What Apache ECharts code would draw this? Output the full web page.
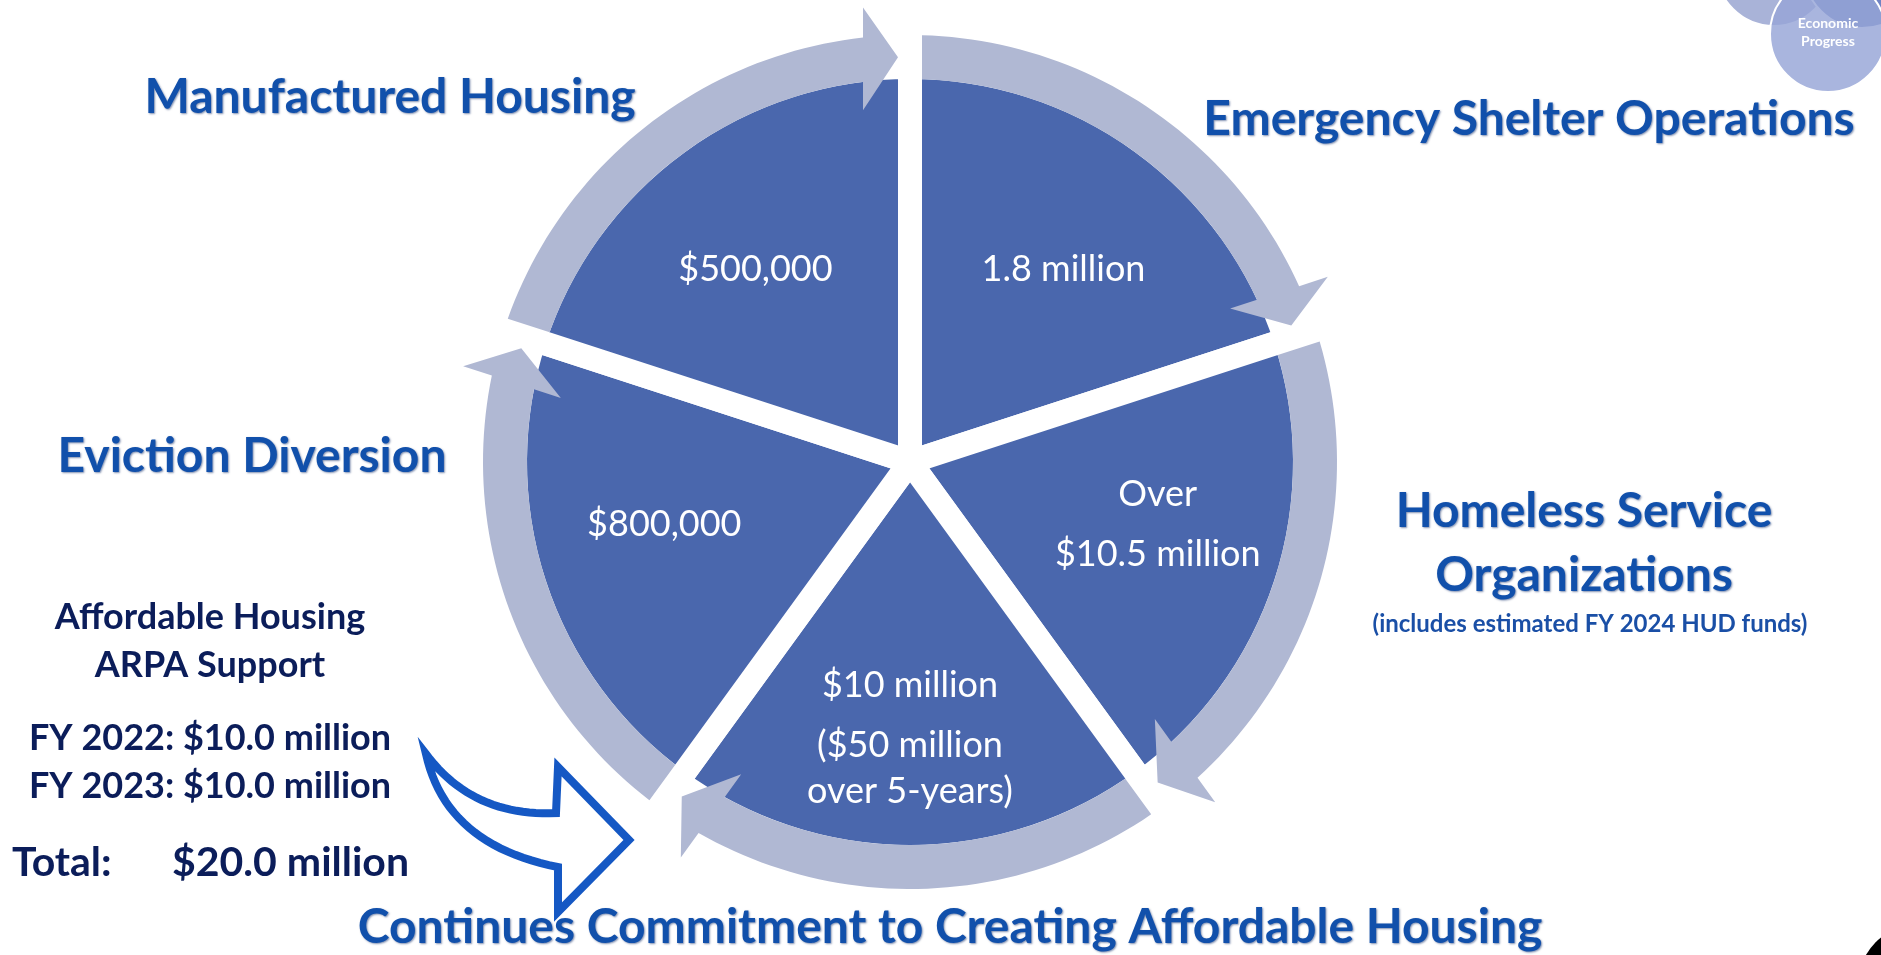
<!DOCTYPE html>
<html lang="en">
<head>
    <meta charset="UTF-8">
    <title>Affordable Housing Cycle</title>
    <script src="https://cdn.jsdelivr.net/npm/echarts@6.0.0/dist/echarts.min.js"></script>
    <style>
      html, body { margin: 0; padding: 0; background: #fff; }
    </style>
</head>
<body>

    <div id="main" style="width: 1881px;height:955px;"></div>

    <script type="text/javascript">

      // slices, clockwise from the top
      const categories = ['Emergency Shelter Operations', 'Homeless Service Organizations', 'Affordable Housing', 'Eviction Diversion', 'Manufactured Housing']
      const shares = [1, 1, 1, 1, 1]
      const amounts = ['1.8 million', 'Over\n$10.5 million', '$10 million', '$800,000', '$500,000']
      const amountNotes = ['', '', '($50 million\nover 5-years)', '', '']

      // headings around the cycle (same order as the slices)
      const headings = ['Emergency Shelter Operations', 'Homeless Service\nOrganizations', 'Continues Commitment to Creating Affordable Housing', 'Eviction Diversion', 'Manufactured Housing']
      const headingNote = '(includes estimated FY 2024 HUD funds)'

      // ARPA side box
      const arpaTitle = ['Affordable Housing', 'ARPA Support']
      const arpaYears = ['FY 2022', 'FY 2023']
      const arpaAmounts = ['$10.0 million', '$10.0 million']
      const arpaTotal = '$20.0 million'

      // geometry (px)
      const CX = 910, CY = 462
      const PIE_R = 395, BORDER = 24
      const RING_IN = 383, RING_OUT = 427, MID = 405, BARB_IN = 355, BARB_OUT = 457
      const GAP = BORDER / 2, HEAD = 47
      const LABEL_R = 251
      // small per-slice nudges of the amount text (the source layout is not on the bisectors)
      const labelShift = [[6, 10], [9, -15], [0, 0], [-7, -15], [-7, 10]]
      const headingPos = [[1529, 120], [1584, 544], [950, 928], [252, 457], [390, 98]]

      const N = categories.length
      const U = N / (2 * Math.PI)   // angle-axis units per radian
      const off = (d, r) => Math.asin(d / r) * U

      function ringPoints(i, api) {
        const pts = []
        const steps = 48
        const a0o = i + off(GAP, RING_OUT), a1o = i + 1 - off(HEAD, RING_OUT)
        const a0i = i + off(GAP, RING_IN), a1i = i + 1 - off(HEAD, RING_IN)
        for (let k = 0; k <= steps; k++) pts.push(api.coord([RING_OUT, a0o + (a1o - a0o) * k / steps]))
        pts.push(api.coord([BARB_OUT, i + 1 - off(HEAD, BARB_OUT)]))
        pts.push(api.coord([MID, i + 1 - off(GAP, MID)]))
        pts.push(api.coord([BARB_IN, i + 1 - off(HEAD, BARB_IN)]))
        for (let k = steps; k >= 0; k--) pts.push(api.coord([RING_IN, a0i + (a1i - a0i) * k / steps]))
        return pts
      }

      function renderItem(params, api) {
        const i = params.dataIndex
        const c = api.coord([LABEL_R, i + 0.5])
        const note = amountNotes[i]
        let text = amounts[i].split('\n').map(s => '{m|' + s + '}').join('\n')
        if (note) text += '\n' + note.split('\n').map(s => '{n|' + s + '}').join('\n')
        const base = { fill: '#fff', fontFamily: 'Lato', fontSize: 36 }
        return {
          type: 'group',
          children: [
            {
              type: 'polygon',
              shape: { points: ringPoints(i, api) },
              style: { fill: '#b0b8d3' }
            },
            {
              type: 'text',
              x: c[0] + labelShift[i][0], y: c[1] + labelShift[i][1],
              style: {
                text: text,
                align: 'center', verticalAlign: 'middle',
                padding: note ? [36, 0, 0, 0] : 0,
                rich: {
                  m: Object.assign({ lineHeight: note ? 74 : 60 }, base),
                  n: Object.assign({ lineHeight: 46 }, base)
                }
              }
            }
          ]
        }
      }

      // quadratic bezier sampler for the hollow arrow outline
      function quad(p0, c, p1, n) {
        const out = []
        for (let k = 0; k <= n; k++) {
          const t = k / n, s = 1 - t
          out.push([s * s * p0[0] + 2 * s * t * c[0] + t * t * p1[0], s * s * p0[1] + 2 * s * t * c[1] + t * t * p1[1]])
        }
        return out
      }
      const tail = [426, 754]
      const arrowPts = [].concat(
        quad(tail, [473, 817], [556, 813], 24),
        [[558, 767], [629, 840], [558, 912]],
        quad([558, 867], [446, 845], tail, 24)
      )

      const headingStyle = {
        fill: '#1150ab', font: 'bold 48px Lato',
        textShadowColor: 'rgba(5,35,100,0.5)', textShadowBlur: 2, textShadowOffsetX: 1, textShadowOffsetY: 1
      }
      const navy = '#0b1d5a'
      const centered = { textAlign: 'center', textVerticalAlign: 'middle', align: 'center', verticalAlign: 'middle' }
      const leftMid = { textAlign: 'left', textVerticalAlign: 'middle', align: 'left', verticalAlign: 'middle' }

      const graphics = []
      headings.forEach((h, i) => {
        graphics.push({
          type: 'text', x: headingPos[i][0], y: headingPos[i][1],
          style: Object.assign({ text: h, lineHeight: 64 }, centered, headingStyle)
        })
      })
      graphics.push({
        type: 'text', x: 1590, y: 624,
        style: Object.assign({ text: headingNote, fill: '#1a4fa6', font: 'bold 24px Lato' }, centered)
      })
      arpaTitle.forEach((t, i) => {
        graphics.push({
          type: 'text', x: 210, y: 617 + i * 48,
          style: Object.assign({ text: t, fill: navy, font: 'bold 36px Lato' }, centered)
        })
      })
      arpaYears.forEach((y, i) => {
        graphics.push({
          type: 'text', x: 210, y: 738 + i * 48,
          style: Object.assign({ text: y + ': ' + arpaAmounts[i], fill: navy, font: 'bold 36px Lato' }, centered)
        })
      })
      graphics.push({
        type: 'text', x: 12, y: 863,
        style: Object.assign({ text: 'Total:', fill: navy, font: 'bold 41px Lato' }, leftMid)
      })
      graphics.push({
        type: 'text', x: 172, y: 863,
        style: Object.assign({ text: arpaTotal, fill: navy, font: 'bold 41px Lato' }, leftMid)
      })
      graphics.push({
        type: 'polygon', shape: { points: arrowPts },
        style: { fill: '#fff', stroke: '#1558c4', lineWidth: 8, lineJoin: 'miter' }
      })

      // "Economic Progress" badge, top right corner
      graphics.push({ type: 'circle', shape: { cx: 1774, cy: -32, r: 58 }, style: { fill: '#a9b3d8', stroke: '#fff', lineWidth: 2 } })
      graphics.push({ type: 'circle', shape: { cx: 1862, cy: -30, r: 58 }, style: { fill: '#6f83c4', stroke: '#fff', lineWidth: 2 } })
      graphics.push({ type: 'circle', shape: { cx: 1828, cy: 34, r: 58 }, style: { fill: 'rgba(150,165,215,0.82)', stroke: '#fff', lineWidth: 2 } })
      graphics.push({
        type: 'text', x: 1828, y: 32,
        style: Object.assign({ text: 'Economic\nProgress', fill: '#fff', font: 'bold 14px Lato', lineHeight: 18 }, centered)
      })
      graphics.push({ type: 'circle', shape: { cx: 1915, cy: 982, r: 56 }, style: { fill: '#000' } })

      var myChart = echarts.init(document.getElementById('main'));

      var option = {
        animation: false,
        backgroundColor: '#fff',
        polar: { center: [CX, CY], radius: BARB_OUT + 3 },
        radiusAxis: { type: 'value', min: 0, max: BARB_OUT + 3, show: false },
        angleAxis: { type: 'value', min: 0, max: N, startAngle: 90, clockwise: true, show: false },
        graphic: { elements: graphics },
        series: [
          {
            type: 'pie',
            center: [CX, CY],
            radius: [0, PIE_R],
            startAngle: 90,
            clockwise: true,
            silent: true,
            label: { show: false },
            labelLine: { show: false },
            itemStyle: { color: '#4a67ad', borderColor: '#fff', borderWidth: BORDER },
            data: categories.map((name, i) => ({ name: name, value: shares[i] }))
          },
          {
            type: 'custom',
            coordinateSystem: 'polar',
            silent: true,
            z: 5,
            renderItem: renderItem,
            data: categories.map((name, i) => ({ name: name, value: [RING_OUT, i] }))
          }
        ]
      };

      myChart.setOption(option);

    </script>
  </body>
</html>
